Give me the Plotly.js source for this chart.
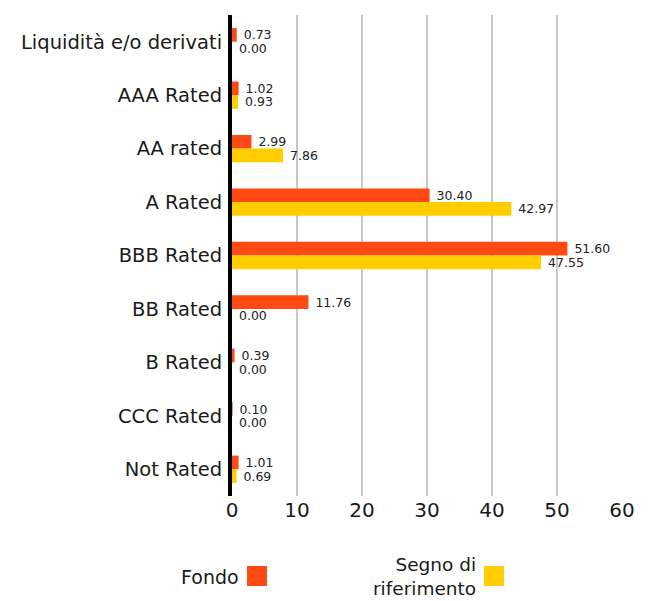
<!DOCTYPE html>
<html>
<head>
<meta charset="utf-8">
<script src="https://cdn.plot.ly/plotly-3.0.1.min.js"></script>
<style>html,body{margin:0;padding:0;background:#fff;}#chart{width:651px;height:601px;}</style>
</head>
<body>
<div id="chart"></div>
<script>
const categories = ["Liquidità e/o derivati","AAA Rated","AA rated","A Rated","BBB Rated","BB Rated","B Rated","CCC Rated","Not Rated"];
const fondo = [0.73,1.02,2.99,30.40,51.60,11.76,0.39,0.10,1.01];
const segno = [0.00,0.93,7.86,42.97,47.55,0.00,0.00,0.00,0.69];
const seriesNames = ["Fondo","Segno di riferimento"];
const xTicks = [0,10,20,30,40,50,60];

const FONT = "DejaVu Sans, sans-serif";
const RED = "#ff4a14", YEL = "#ffcd00";

const mk = (vals, name, color) => ({
  type: "bar", orientation: "h", name: name,
  y: categories, x: vals,
  marker: {color: color},
  texttemplate: " %{x:.2f}", textposition: "outside", cliponaxis: false,
  constraintext: "none",
  textfont: {family: FONT, size: 12.5, color: "#222"},
  hoverinfo: "x+y"
});

const data = [mk(fondo, seriesNames[0], RED), mk(segno, seriesNames[1], YEL)];

const L = 232, T = 15, W = 390, H = 481;
const px = v => (v - L) / W;
const py = v => (T + H - v) / H;

const layout = {
  width: 651, height: 601,
  margin: {l: L, r: 651 - L - W, t: T, b: 601 - T - H},
  paper_bgcolor: "#fff", plot_bgcolor: "#fff",
  barmode: "group", bargap: 0.49, bargroupgap: 0,
  showlegend: false,
  font: {family: FONT, color: "#1a1a1a"},
  xaxis: {
    range: [0, 60], tickvals: xTicks, ticktext: xTicks.map(String),
    showgrid: true, gridcolor: "#c8c8c8", gridwidth: 2,
    zeroline: false, showline: false, ticks: "",
    tickfont: {family: FONT, size: 20, color: "#1a1a1a"}
  },
  yaxis: {
    autorange: "reversed", showgrid: false, zeroline: false,
    showline: true, linecolor: "#000", linewidth: 4, ticks: "",
    ticklabelstandoff: 2,
    tickfont: {family: FONT, size: 19.5, color: "#1a1a1a"}
  },
  annotations: [
    {xref: "paper", yref: "paper", x: px(241), y: py(577), xanchor: "right", yanchor: "middle",
     text: seriesNames[0], showarrow: false, font: {family: FONT, size: 19, color: "#1a1a1a"}},
    {xref: "paper", yref: "paper", x: px(478), y: py(576), xanchor: "right", yanchor: "middle", align: "right",
     text: "Segno di<br>riferimento", showarrow: false, font: {family: FONT, size: 18.5, color: "#1a1a1a"}}
  ],
  shapes: [
    {type: "rect", xref: "paper", yref: "paper", x0: px(247), x1: px(267), y0: py(586), y1: py(566), fillcolor: RED, line: {width: 0}},
    {type: "rect", xref: "paper", yref: "paper", x0: px(484), x1: px(504), y0: py(586), y1: py(566), fillcolor: YEL, line: {width: 0}}
  ]
};

Plotly.newPlot("chart", data, layout, {displayModeBar: false, staticPlot: true});
</script>
</body>
</html>
